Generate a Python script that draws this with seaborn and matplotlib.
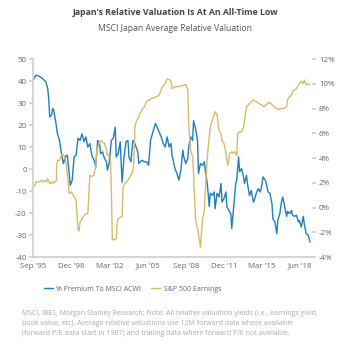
import matplotlib
matplotlib.use("Agg")
import matplotlib.pyplot as plt
import seaborn as sns
import pandas as pd

# months since Sep 1995
blue_months = [0, 3, 7, 10, 13, 15, 16, 17, 19, 20, 21, 23, 25, 27, 29, 31, 33, 35, 37, 38,
               40, 42, 44, 46, 48, 50, 52, 54, 56, 58, 60, 63, 64, 66, 68, 69, 71, 73, 75, 76,
               78, 80, 82, 84, 85, 87, 89, 91, 93, 95, 97, 98, 100, 102, 104, 107, 108, 111, 114, 116,
               118, 120, 123, 125, 128, 131, 133, 135, 137, 139, 141, 142, 145, 147, 149,
               151, 153, 154, 156, 158, 159, 161, 163, 164, 166, 168, 169, 171, 173, 175, 176, 178,
               180, 181, 183, 185, 186, 188, 190, 192, 193, 195, 197, 198, 200, 202, 203, 205, 207,
               208, 210, 211, 213, 215, 216, 218, 219, 221, 223, 225, 226, 228, 230, 232, 233, 235,
               237, 238, 240, 242, 244, 245, 247, 249, 250, 252, 254, 255, 257, 259, 260, 262, 264,
               265, 267, 269, 271, 272, 274, 276, 277, 279, 281, 283]
blue_values = [40.4, 42.7, 42.0, 41.0, 39.7, 36.6, 32.0, 23.7, 24.5, 27.5, 27.0, 22.0, 16.0, 13.0, 7.0, 2.5, 5.5, 6.3, -2.0, -7.4,
               -5.0, 5.5, 6.3, 14.0, 13.0, 16.0, 12.4, 14.6, 10.0, 11.6, 6.3, 3.3, 1.0, 13.0, 11.6, 7.0, 7.8, 4.8, 3.3, -0.5,
               3.3, 13.0, 14.0, 19.0, 5.5, 7.0, 12.4, -6.0, 5.5, 12.4, 13.0, 5.5, 3.3, 13.0, 11.6, 7.8, 2.5, 4.0, 3.3, 3.3,
               1.7, 13.0, 17.7, 20.7, 17.7, 14.6, 11.6, 10.0, 14.6, 10.0, 11.6, 6.3, 0.2, -2.0, -5.0,
               -0.5, 8.6, 5.5, 2.5, 4.8, 10.0, 14.6, 13.0, 22.0, 18.4, 13.0, -2.0, 2.5, 1.7, 3.3, -0.5, -6.6,
               -17.0, -11.0, -12.0, -10.4, -18.0, -11.0, -12.7, -6.6, -15.0, -13.5, -10.4, -17.0, -18.8, -20.3, -27.0, -17.0, -6.6,
               -5.0, 5.5, -1.3, 0.2, -3.6, -6.6, -2.8, -6.6, -12.0, -9.7, -15.0, -14.2, -11.0, -8.9, -10.4, -8.9, -3.6,
               -5.0, -6.0, -10.4, -11.0, -15.7, -22.6, -24.0, -29.4, -23.3, -20.3, -14.2, -12.7, -17.0, -21.5, -19.2, -20.3, -18.8,
               -21.0, -21.5, -21.0, -24.0, -23.3, -26.4, -21.5, -24.8, -29.4, -30.0, -33.2]

gold_months = [0, 2, 3, 7, 8, 10, 12, 14, 15, 17,
               19, 20, 22, 24, 24, 25, 27, 29, 30, 32,
               34, 36, 37, 39, 41, 42, 44, 46, 47, 48,
               51, 54, 56, 57, 58, 60, 62, 64, 65, 68,
               69, 71, 73, 75, 76, 79, 80, 81, 83, 85,
               86, 87, 90, 91, 92, 94, 97, 98, 100, 102,
               103, 104, 106, 108, 109, 112, 114, 116, 119, 121,
               124, 126, 129, 132, 134, 137, 139, 141, 142, 145,
               147, 151, 154, 156, 158, 159, 161, 163, 164, 166,
               168, 170, 171, 173, 175, 176, 178, 180, 181, 183,
               185, 186, 188, 190, 192, 193, 195, 197, 198, 199,
               201, 203, 204, 206, 208, 209, 211, 213, 215, 216,
               218, 220, 221, 223, 225, 228, 231, 233, 236, 238,
               241, 243, 246, 249, 251, 253, 256, 259, 260, 262,
               264, 265, 267, 269, 271, 272, 274, 276, 277, 279,
               281, 283]
gold_values = [1.67, 1.8, 2.07, 2.07, 2.2, 2.07, 2.2, 2.07, 2.34, 1.94,
               2.07, 1.94, 2.07, 2.2, 3.4, 3.8, 3.8, 4.2, 4.3, 4.2,
               3.55, 1.94, 1.13, 1.26, 1.0, 0.86, 0.6, -1.8, -1.9, -1.2,
               -0.76, -0.5, -0.5, 0.86, 2.6, 2.5, 2.6, 3.3, 4.6, 5.3,
               5.4, 5.3, 5.2, 4.6, 4.2, 4.1, 1.67, -2.6, -2.6, -2.5,
               -1.2, -0.9, -0.76, -0.76, 1.67, 1.94, 2.2, 2.34, 2.6, 2.9,
               3.8, 6.5, 7.06, 7.3, 7.6, 8.0, 8.14, 8.6, 8.7, 8.8,
               8.9, 8.95, 9.1, 9.76, 9.9, 10.4, 10.35, 10.2, 9.6, 9.76,
               9.76, 9.8, 9.9, 9.95, 9.5, 6.8, 4.6, 4.1, 2.7, -1.0,
               -1.7, -2.65, -3.2, -1.0, -0.2, 1.4, 4.1, 5.7, 6.5, 7.06,
               7.5, 7.74, 7.5, 6.25, 6.0, 5.4, 5.2, 4.4, 3.8, 3.4,
               4.4, 4.5, 4.4, 4.5, 4.2, 6.0, 6.1, 6.1, 6.5, 7.06,
               8.14, 8.3, 8.4, 8.55, 8.7, 8.55, 8.4, 8.3, 8.14, 8.3,
               8.5, 8.4, 8.14, 8.0, 7.9, 8.0, 8.0, 8.14, 8.7, 8.95,
               9.1, 9.35, 9.5, 9.6, 9.9, 10.0, 10.2, 10.0, 10.3, 9.9,
               10.0, 9.9]

tick_labels = ["Sep '95", "Dec '98", "Mar '02", "Jun '05", "Sep '08", "Dec '11", "Mar '15", "Jun '18"]
left_ticks = [50, 40, 30, 20, 10, 0, -10, -20, -30, -40]
right_ticks = [12, 10, 8, 6, 4, 2, 0, -2, -4]

title = "Japan's Relative Valuation Is At An All-Time Low"
subtitle = "MSCI Japan Average Relative Valuation"
blue_label = "% Premium To MSCI ACWI"
gold_label = "S&P 500 Earnings"
footnote = ("MSCI, IBES, Morgan Stanley Research; Note: All relative valuation yields (i.e., earnings yield,\n"
            "book value, etc). Average relative valuations use 12M forward data where available\n"
            "(forward P/E data start in 1987) and trailing data where forward P/E not available.")

sns.set_theme(style="white")
plt.rcParams['font.family'] = ['Open Sans', 'DejaVu Sans']

start = pd.Period("1995-09", "M")
blue_df = pd.DataFrame({"date": [(start + m).to_timestamp() for m in blue_months], "v": blue_values})
gold_df = pd.DataFrame({"date": [(start + m).to_timestamp() for m in gold_months], "v": gold_values})
tick_dates = [(start + 39 * i).to_timestamp() for i in range(len(tick_labels))]

BLUE = "#1f7fc1"
GOLD = "#d8bb6a"
AXC = "#d0d0d0"
TXT = "#666666"

fig = plt.figure(figsize=(3.55, 3.6), dpi=100)
ax = fig.add_axes([0.093, 0.286, 0.786, 0.55])
ax2 = ax.twinx()

sns.lineplot(data=blue_df, x="date", y="v", ax=ax, color=BLUE, linewidth=1.0, label=blue_label,
             legend=False, estimator=None, sort=False)
sns.lineplot(data=gold_df, x="date", y="v", ax=ax2, color=GOLD, linewidth=1.0, label=gold_label,
             legend=False, estimator=None, sort=False)

ax.set_xlim(start.to_timestamp(), (start + 285).to_timestamp())
ax.set_ylim(-40, 50)
ax2.set_ylim(-4, 12)
ax.set_xticks(tick_dates)
ax.set_xticklabels(tick_labels)
ax.set_yticks(left_ticks)
ax.set_yticklabels([str(t) for t in left_ticks])
ax2.set_yticks(right_ticks)
ax2.set_yticklabels([f"{t}%" for t in right_ticks])
ax.set_xlabel("")
ax.set_ylabel("")
ax2.set_ylabel("")

for a in (ax, ax2):
    for s in ("top", "right"):
        a.spines[s].set_visible(False)
    a.spines["left"].set_visible(a is ax)
    a.spines["bottom"].set_visible(a is ax)
    a.spines["left"].set_color(AXC)
    a.spines["bottom"].set_color(AXC)
ax.tick_params(axis="x", direction="in", length=3, color=AXC, labelsize=5.7, labelcolor=TXT, pad=4)
ax.tick_params(axis="y", direction="out", length=3, color=AXC, labelsize=5.7, labelcolor=TXT, pad=1.5, left=True)
ax2.tick_params(axis="y", direction="out", length=3, color=AXC, labelsize=5.7, labelcolor=TXT, pad=2, right=True)

fig.text(0.493, 0.965, title, ha="center", va="center", fontsize=6.3, fontweight="bold", color="#444444")
fig.text(0.493, 0.922, subtitle, ha="center", va="center", fontsize=6.2, color="#555555")

h1, l1 = ax.get_legend_handles_labels()
h2, l2 = ax2.get_legend_handles_labels()
fig.legend(h1 + h2, l1 + l2, loc="center left", bbox_to_anchor=(0.105, 0.197), ncol=2, frameon=False,
           fontsize=5.0, labelcolor=TXT, handlelength=1.3, handletextpad=0.5, columnspacing=1.5)

fig.text(0.062, 0.063, footnote, ha="left", va="bottom", fontsize=5.0, color="#aaaaaa", linespacing=1.6)

fig.savefig("out.png", dpi=100)
